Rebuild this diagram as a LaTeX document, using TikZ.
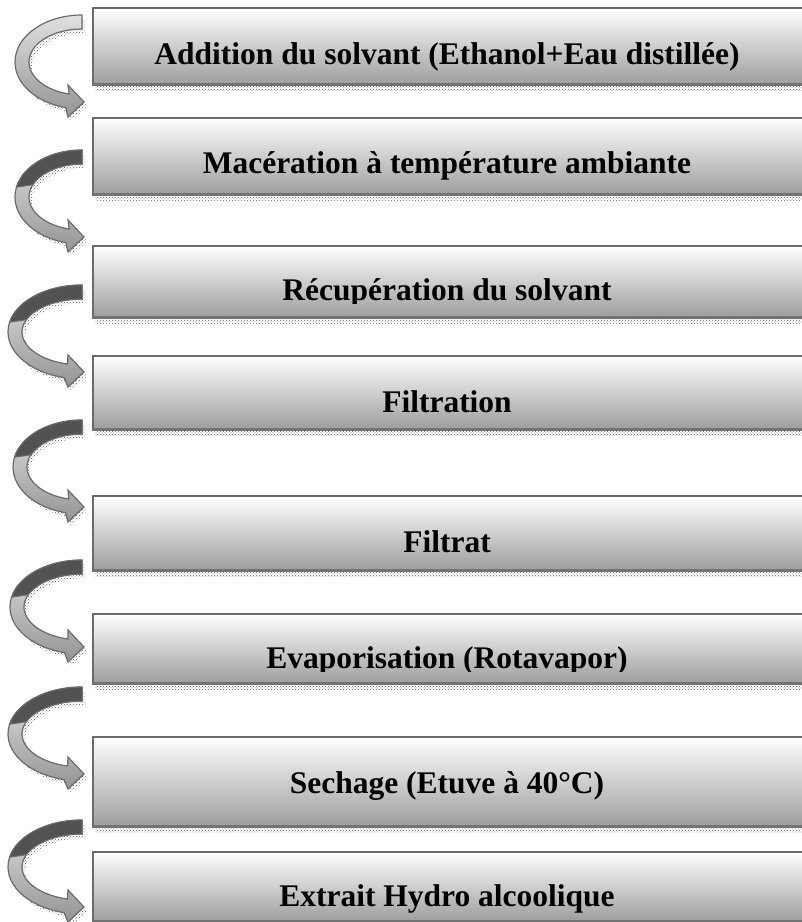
\documentclass[tikz,border=0pt]{standalone}
\usepackage{fontspec}
\setmainfont{Liberation Serif}
\usetikzlibrary{patterns,positioning}

\tikzset{
  boite/.style={rectangle, draw=black!58, line width=1.5pt, top color=white, bottom color=black!38,
    minimum width=713pt, inner sep=0pt, anchor=north west},
  bordbas/.style={draw=black!55, line width=3pt},
  ombre/.style={pattern=crosshatch dots, pattern color=black!60},
  texte/.style={anchor=base, inner sep=0pt, font=\fontsize{31.5}{38}\selectfont\bfseries},
  flecheclaire/.style={draw=black!58, line width=1.2pt, top color=black!12, bottom color=black!42},
  hautsombre/.style={draw=black!58, line width=1pt, fill=black!68},
  formefleche/.style={insert path={(0,47) arc[start angle=90, end angle=256, x radius=#1, y radius=47]
    -- (-14,-55) -- (2,-40) -- (-14,-23) -- ({(#1-14)*cos(256)},{33*sin(256)})
    arc[start angle=256, end angle=90, x radius=#1-14, y radius=33] -- cycle}},
  fleche/.pic={
    \fill[ombre, shift={(3,-4)}, formefleche=#1];
    \draw[flecheclaire, formefleche=#1];
  },
  flechesombre/.pic={
    \pic {fleche=#1};
    \draw[hautsombre] (0,47) arc[start angle=90, end angle=168, x radius=#1, y radius=47]
      -- ({(#1-14)*cos(158)},{33*sin(158)}) arc[start angle=158, end angle=90, x radius=#1-14, y radius=33] -- cycle;
  }
}

\begin{document}
\begin{tikzpicture}[x=1pt, y=1pt]
	\clip (0,0) rectangle (802,-922);
	
	% les etapes
	\node[boite, minimum height=76pt] (etape1) at (92,-7) {};
	\node[boite, minimum height=76pt] (etape2) at (92,-117) {};
	\node[boite, minimum height=71pt] (etape3) at (92,-245) {};
	\node[boite, minimum height=73pt] (etape4) at (92,-355) {};
	\node[boite, minimum height=74pt] (etape5) at (92,-495) {};
	\node[boite, minimum height=69pt] (etape6) at (92,-613) {};
	\node[boite, minimum height=89pt] (etape7) at (92,-736) {};
	\node[boite, minimum height=69pt] (etape8) at (92,-851) {};
	
	\fill[ombre] ([xshift=3pt, yshift=-1pt]etape1.south west) rectangle ([yshift=-6pt]etape1.south east);
	\fill[ombre] ([xshift=3pt, yshift=-1pt]etape2.south west) rectangle ([yshift=-6pt]etape2.south east);
	\fill[ombre] ([xshift=3pt, yshift=-1pt]etape3.south west) rectangle ([yshift=-6pt]etape3.south east);
	\fill[ombre] ([xshift=3pt, yshift=-1pt]etape4.south west) rectangle ([yshift=-6pt]etape4.south east);
	\fill[ombre] ([xshift=3pt, yshift=-1pt]etape5.south west) rectangle ([yshift=-6pt]etape5.south east);
	\fill[ombre] ([xshift=3pt, yshift=-1pt]etape6.south west) rectangle ([yshift=-6pt]etape6.south east);
	\fill[ombre] ([xshift=3pt, yshift=-1pt]etape7.south west) rectangle ([yshift=-6pt]etape7.south east);
	\fill[ombre] ([xshift=3pt, yshift=-1pt]etape8.south west) rectangle ([yshift=-6pt]etape8.south east);
	
	\draw[bordbas] (etape1.south west) -- (etape1.south east);
	\draw[bordbas] (etape2.south west) -- (etape2.south east);
	\draw[bordbas] (etape3.south west) -- (etape3.south east);
	\draw[bordbas] (etape4.south west) -- (etape4.south east);
	\draw[bordbas] (etape5.south west) -- (etape5.south east);
	\draw[bordbas] (etape6.south west) -- (etape6.south east);
	\draw[bordbas] (etape7.south west) -- (etape7.south east);
	\draw[bordbas] (etape8.south west) -- (etape8.south east);
	
	% les textes
	\node[texte] (texte1) at (447,-64) {Addition du solvant (Ethanol+Eau distillée)};
	\node[texte] (texte2) at (447,-173) {Macération à température ambiante};
	\begin{scope}
		\clip (etape3.north west) rectangle ([yshift=14pt]etape3.south east);
		\node[texte] (texte3) at (447,-300) {Récupération du solvant};
	\end{scope}
	\node[texte] (texte4) at (447,-412) {Filtration};
	\node[texte] (texte5) at (447,-552) {Filtrat};
	\begin{scope}
		\clip (etape6.north west) rectangle ([yshift=12pt]etape6.south east);
		\node[texte] (texte6) at (447,-668) {Evaporisation (Rotavapor)};
	\end{scope}
	\node[texte] (texte7) at (447,-793) {Sechage (Etuve à 40°C)};
	\begin{scope}
		\clip (etape8.north west) rectangle ([yshift=9pt]etape8.south east);
		\node[texte] (texte8) at (447,-906) {Extrait Hydro alcoolique};
	\end{scope}
	
	% les fleches
	\pic at (82,-62) {fleche=67};
	\pic at (82,-197) {flechesombre=67};
	\pic at (82,-332) {flechesombre=74};
	\pic at (82,-467) {flechesombre=69};
	\pic at (82,-607) {flechesombre=72};
	\pic at (82,-734) {flechesombre=74};
	\pic at (82,-867) {flechesombre=74};
\end{tikzpicture}
\end{document}
